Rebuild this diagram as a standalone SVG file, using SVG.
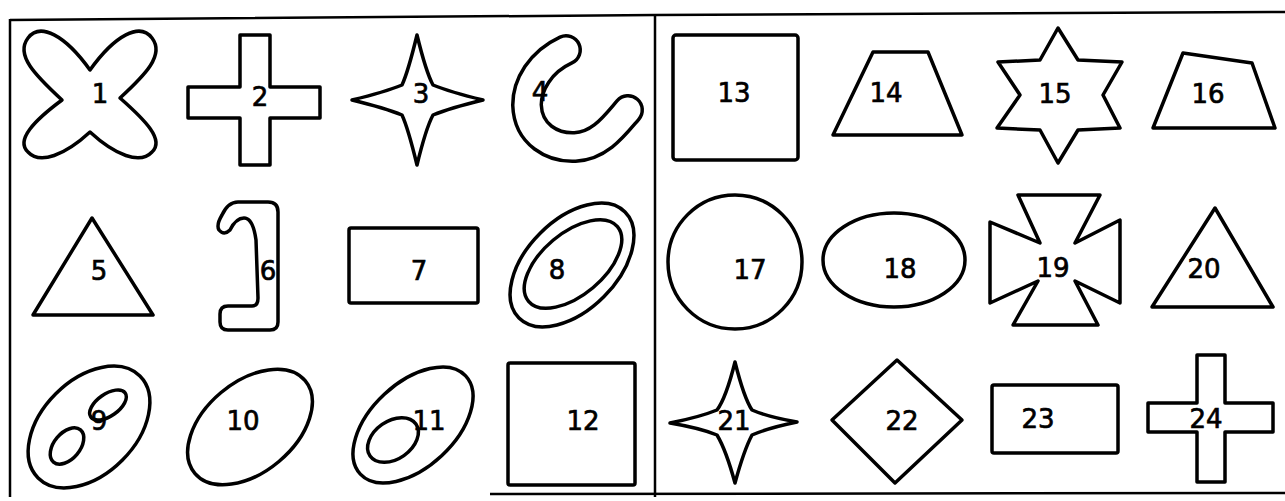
<svg xmlns="http://www.w3.org/2000/svg" width="1285" height="501" viewBox="0 0 1285 501">
<style>
.s{fill:none;stroke:#000;stroke-width:3.5;stroke-linejoin:round;stroke-linecap:round}
.f{fill:none;stroke:#000;stroke-width:2.5}
.t{font-family:"DejaVu Sans",sans-serif;font-size:26px;fill:#000;stroke:#000;stroke-width:0.7;text-anchor:middle}
</style>
<rect width="1285" height="501" fill="#fff"/>
<g id="frame">
<path class="f" d="M10 20 L655 15 L1285 12"/>
<path class="f" d="M10 19 L10 497"/>
<path class="f" d="M655 14 L655 497"/>
<path class="f" d="M490 494 L1285 493"/>
</g>
<g id="n1"><path class="s" d="M62 100 C35 75 15 55 28 38 C40 22 65 35 90 70 C115 35 140 22 152 38 C165 55 145 75 120 98 C145 120 165 140 152 152 C140 165 115 155 90 132 C65 155 40 165 28 152 C15 140 35 120 62 100 Z"/><text class="t" x="100" y="103">1</text></g>
<g id="n2"><path class="s" d="M240 35 H270 V87 H320 V118 H270 V165 H240 V118 H188 V87 H240 Z"/><text class="t" x="260" y="106">2</text></g>
<g id="n3"><path class="s" d="M417 35 Q426 72 433 85 Q450 92 483 100 Q450 108 433 115 Q426 128 417 165 Q408 128 402 115 Q385 108 352 100 Q385 92 402 85 Q408 72 417 35 Z"/><text class="t" x="421" y="103">3</text></g>
<g id="n4"><path d="M566 50 C540 62 527 85 527 105 C528 135 553 148 575 147 C600 146 615 125 628 110" fill="none" stroke="#000" stroke-width="32" stroke-linecap="round"/><path d="M566 50 C540 62 527 85 527 105 C528 135 553 148 575 147 C600 146 615 125 628 110" fill="none" stroke="#fff" stroke-width="25" stroke-linecap="round"/><text class="t" x="540" y="101">4</text></g>
<g id="n5"><path class="s" d="M92 218 L153 315 L33 315 Z"/><text class="t" x="99" y="280">5</text></g>
<g id="n6"><path class="s" d="M238 202 L268 202 Q278 202 278 212 L278 322 Q278 330 270 330 L228 330 Q220 330 220 322 L220 314 Q220 306 228 306 L252 306 Q258 306 258 298 L256 240 Q253 218 244 218 Q236 218 230 230 Q224 236 219 230 Q216 225 222 215 Q228 202 238 202 Z"/><text class="t" x="268" y="280">6</text></g>
<g id="n7"><rect class="s" x="349" y="228" width="129" height="75" rx="2"/><text class="t" x="419" y="280">7</text></g>
<g id="n8"><ellipse class="s" cx="572" cy="265" rx="75" ry="45" transform="rotate(-45 572 265)"/><ellipse class="s" cx="573" cy="264" rx="58" ry="31" transform="rotate(-40 573 264)"/><text class="t" x="557" y="279">8</text></g>
<g id="n9"><ellipse class="s" cx="89" cy="427" rx="72" ry="47" transform="rotate(-45 89 427)"/><ellipse class="s" cx="108" cy="405" rx="21" ry="11" transform="rotate(-35 108 405)"/><ellipse class="s" cx="67" cy="446" rx="21" ry="13" transform="rotate(-50 67 446)"/><text class="t" x="99" y="430">9</text></g>
<g id="n10"><ellipse class="s" cx="250" cy="427" rx="72" ry="45" transform="rotate(-40 250 427)"/><text class="t" x="243" y="430">10</text></g>
<g id="n11"><ellipse class="s" cx="413" cy="425" rx="72" ry="42" transform="rotate(-43 413 425)"/><ellipse class="s" cx="393" cy="440" rx="28" ry="19" transform="rotate(-35 393 440)"/><text class="t" x="429" y="430">11</text></g>
<g id="n12"><rect class="s" x="508" y="363" width="127" height="122" rx="2"/><text class="t" x="583" y="430">12</text></g>
<g id="n13"><rect class="s" x="673" y="35" width="125" height="125" rx="3"/><text class="t" x="734" y="102">13</text></g>
<g id="n14"><path class="s" d="M873 52 L928 52 L962 135 L833 135 Z"/><text class="t" x="886" y="102">14</text></g>
<g id="n15"><path class="s" d="M1058 28 L1078 60 L1122 62 L1103 95 L1120 128 L1078 130 L1058 163 L1040 130 L997 128 L1020 95 L998 62 L1040 60 Z"/><text class="t" x="1055" y="103">15</text></g>
<g id="n16"><path class="s" d="M1183 53 L1252 63 L1275 128 L1153 128 Z"/><text class="t" x="1208" y="103">16</text></g>
<g id="n17"><circle class="s" cx="735" cy="262" r="67"/><text class="t" x="750" y="279">17</text></g>
<g id="n18"><ellipse class="s" cx="894" cy="260" rx="71" ry="47"/><text class="t" x="900" y="278">18</text></g>
<g id="n19"><path class="s" d="M1018 195 L1100 195 L1075 243 L1120 220 L1120 303 L1075 281 L1098 325 L1013 325 L1038 281 L990 303 L990 222 L1040 243 Z"/><text class="t" x="1053" y="277">19</text></g>
<g id="n20"><path class="s" d="M1215 208 L1273 307 L1152 307 Z"/><text class="t" x="1204" y="278">20</text></g>
<g id="n21"><path class="s" d="M735 362 Q744 398 752 410 Q768 417 797 422 Q768 428 752 435 Q744 450 735 483 Q726 450 717 435 Q700 428 670 423 Q700 417 717 410 Q726 398 735 362 Z"/><text class="t" x="734" y="430">21</text></g>
<g id="n22"><path class="s" d="M897 360 L962 420 L895 483 L832 420 Z"/><text class="t" x="902" y="430">22</text></g>
<g id="n23"><rect class="s" x="992" y="385" width="126" height="68" rx="2"/><text class="t" x="1038" y="428">23</text></g>
<g id="n24"><path class="s" d="M1197 355 H1225 V403 H1273 V432 H1225 V482 H1197 V432 H1148 V403 H1197 Z"/><text class="t" x="1206" y="428">24</text></g>
</svg>
